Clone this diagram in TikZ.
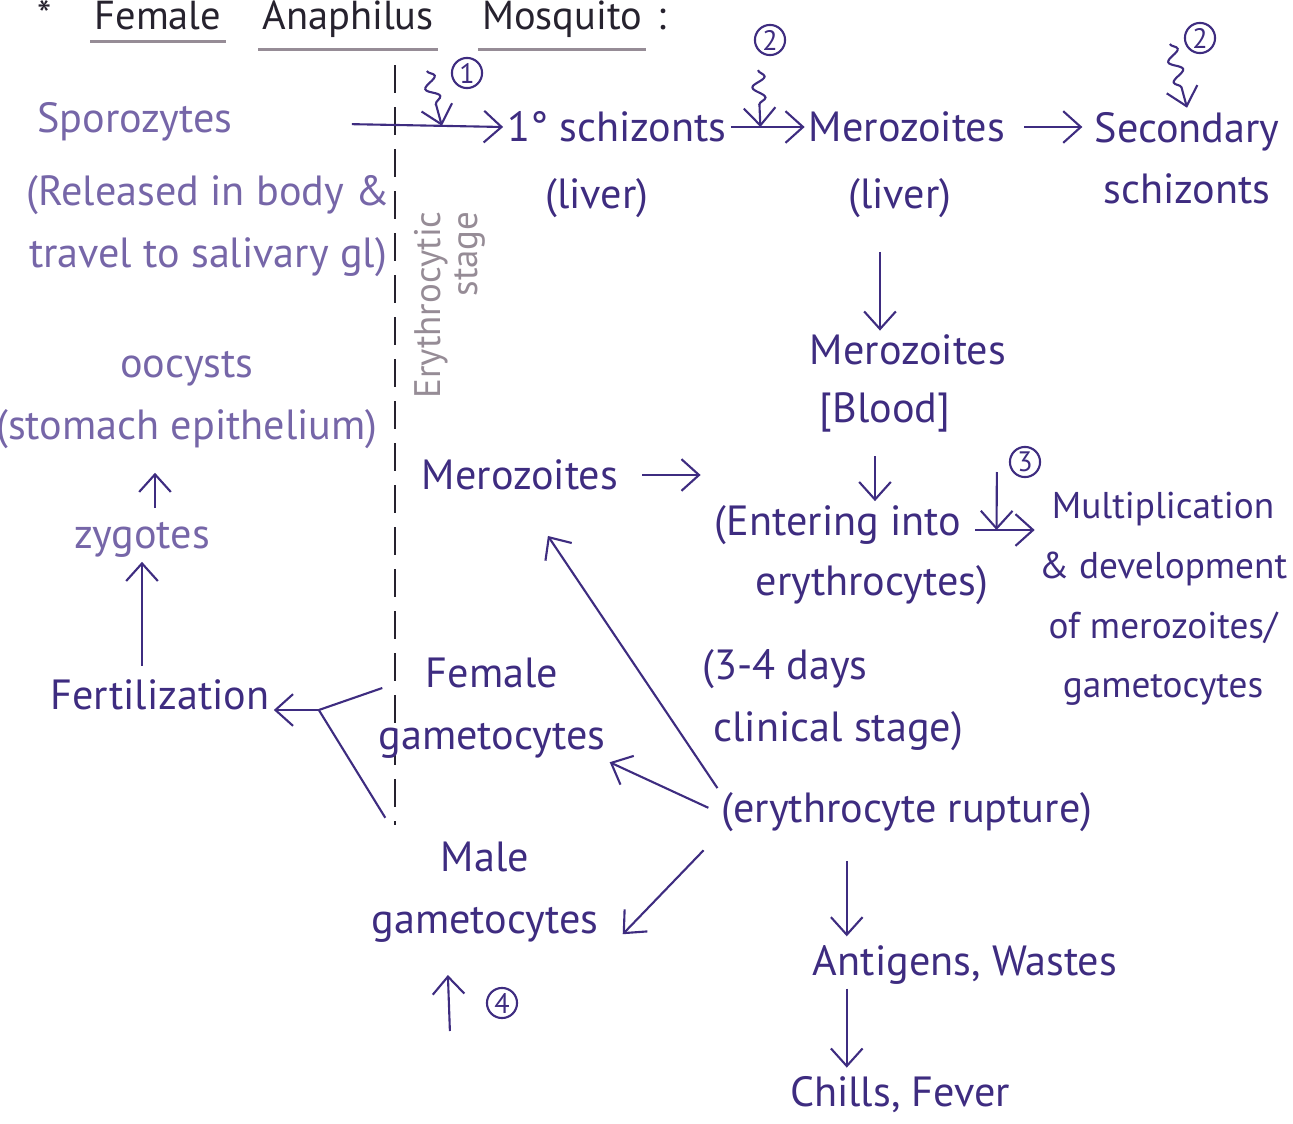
\documentclass[tikz,border=0pt]{standalone}
\usepackage{fontspec}
\setmainfont{PT Sans}
\usepackage{xcolor}
\definecolor{ink}{RGB}{62,44,128}
\definecolor{fadedink}{RGB}{118,102,168}
\definecolor{pencil}{RGB}{38,34,46}
\definecolor{smudge}{RGB}{150,140,150}
\usetikzlibrary{calc}
\usetikzlibrary{arrows.meta}
\usetikzlibrary{decorations.pathmorphing}
\newcommand{\handsize}{\fontsize{12}{17.5}\selectfont}
\newcommand{\smallhand}{\fontsize{10.6}{17}\selectfont}
\newcommand{\titlesize}{\fontsize{11.5}{14}\selectfont}
\tikzset{
    txt/.style={text=ink, font=\handsize, inner sep=1pt, align=center},
    faded/.style={txt, text=fadedink},
    title/.style={text=pencil, font=\titlesize, inner sep=1pt, anchor=base},
    underscore/.style={smudge, thick},
    divider/.style={pencil, thick, dash pattern=on 0.28cm off 0.14cm},
    arr/.style={ink, semithick, -{Straight Barb[length=5pt, width=9pt]}},
    link/.style={ink, semithick},
    squig/.style={arr, decorate, decoration={snake, amplitude=1.8pt, segment length=6pt, post length=5pt}},
    num/.style={draw=ink, semithick, circle, text=ink, font=\footnotesize, inner sep=0.5pt, minimum size=0.29cm},
    stagelabel/.style={text=smudge, font=\fontsize{10.5}{10.5}\selectfont, rotate=90, align=right, inner sep=1pt}
}
\begin{document}
\begin{tikzpicture}[x=0.01cm, y=-0.01cm]
    \useasboundingbox (0,0) rectangle (1293,1124);

    \path
        (45,30) node[title] (t-star) {*}
        (158,30) node[title] (t-female) {Female}
        (348,30) node[title] (t-anaph) {Anaphilus}
        (562,30) node[title] (t-mosq) {Mosquito}
        (662,30) node[title] (t-colon) {:};
    \draw[underscore] ([yshift=-2pt]t-female.south west) -- ([yshift=-2pt]t-female.south east);
    \draw[underscore] ([yshift=-2pt]t-anaph.south west) -- ([yshift=-2pt]t-anaph.south east);
    \draw[underscore] ([yshift=-2pt]t-mosq.south west) -- ([yshift=-2pt]t-mosq.south east);

    \draw[divider] (395,65) -- (395,825);
    \path (450,305) node[stagelabel] (stage) {Erythrocytic\\stage};

    \path
        (135,122) node[faded] (spor) {Sporozytes}
        (208,226) node[faded] (spor-info) {(Released in body \&\\travel to salivary gl)}
        (617,127) node[txt] (schiz1) {1° schizonts}
        (597,198) node[txt] (liver1) {(liver)}
        (907,127) node[txt] (mero1) {Merozoites}
        (900,198) node[txt] (liver2) {(liver)}
        (1187,158) node[txt] (sec-schiz) {Secondary\\schizonts}
        (908,350) node[txt] (mero2) {Merozoites}
        (885,412) node[txt] (blood) {[Blood]}
        (838,525) node[txt] (enter) {(Entering into}
        (872,585) node[txt] (enter-b) {erythrocytes)}
        (1163,599) node[txt, font=\smallhand] (multi) {Multiplication\\\& development\\of merozoites/\\gametocytes}
        (520,475) node[txt] (mero3) {Merozoites}
        (698,700) node[txt, anchor=west, align=left] (days) {(3-4 days\\\ clinical stage)}
        (907,812) node[txt] (rupture) {(erythrocyte rupture)}
        (492,708) node[txt] (female) {Female\\gametocytes}
        (485,892) node[txt] (male) {Male\\gametocytes}
        (965,965) node[txt] (antigens) {Antigens, Wastes}
        (900,1095) node[txt] (chills) {Chills, Fever}
        (160,695) node[txt] (fert) {Fertilization}
        (142,540) node[faded] (zyg) {zygotes}
        (187,400) node[faded] (oocyst) {oocysts\\(stomach epithelium)};

    \path
        (467,73) node[num] (c1) {1}
        (770,40) node[num] (c2a) {2}
        (1200,38) node[num] (c2b) {2}
        (1025,462) node[num] (c3) {3}
        (502,1003) node[num] (c4) {4};

    \draw[arr, shorten <=1.15cm] (spor.east) -- coordinate[pos=0.77] (a1) (schiz1.west);
    \draw[arr] (schiz1.east) -- coordinate[pos=0.4] (a2) (schiz1.east -| mero1.west);
    \draw[arr, shorten <=0.15cm, shorten >=0.08cm] (mero1.east) -- (mero1.east -| sec-schiz.west);
    \draw[arr, shorten <=0.3cm] ($(liver2.south)+(-20,0)$) -- ($(mero2.north)+(-28,0)$);
    \draw[arr, shorten <=0.2cm] ($(blood.south)+(-10,0)$) -- ($(enter.north)+(37,0)$);
    \draw[arr, shorten <=0.1cm] ($(enter.east)+(0,5)$) -- coordinate[pos=0.45] (a3) ($(enter.east -| multi.west)+(0,5)$);
    \draw[arr, shorten <=0.2cm, shorten >=0.1cm] (mero3.east) -- (mero3.east -| enter.west);

    \draw[squig] ($(c1.west)+(-24,-2)$) -- (a1);
    \draw[squig] ($(c2a.south)+(-12,14)$) -- (a2);
    \draw[squig] ($(c2b.west)+(-14,6)$) -- (sec-schiz.north);
    \draw[arr] ($(c3.west)+(-12,10)$) -- (a3);
    \draw[arr] ($(c4.west)+(-36,28)$) -- ($(c4.west)+(-38,-28)$);

    \draw[arr, shorten >=0.5cm] (rupture.north west) -- (mero3.south);
    \draw[arr, shorten <=0.1cm] (rupture.west) -- (female.south east);
    \draw[arr, shorten <=0.2cm] (rupture.south west) -- ($(male.south east)+(20,-12)$);

    \coordinate (drop) at ($(antigens.north west)+(38,0)$);
    \draw[arr, shorten <=0.25cm, shorten >=0.05cm] (rupture.south -| drop) -- (drop);
    \draw[arr, shorten >=0.05cm] (antigens.south -| drop) -- (chills.north -| drop);

    \coordinate (fork) at ($(fert.east)+(45,15)$);
    \draw[link] ($(female.west)+(8,-20)$) -- (fork);
    \draw[link] ($(male.north west)+(18,-20)$) -- (fork);
    \draw[arr] (fork) -- ($(fert.east)+(0,15)$);

    \draw[arr, shorten <=0.1cm] (fert.north -| zyg.south) -- (zyg.south);
    \draw[arr, shorten <=0.1cm, shorten >=0.2cm] ($(zyg.north)+(13,0)$) -- ($(oocyst.south)+(-32,0)$);
\end{tikzpicture}
\end{document}
